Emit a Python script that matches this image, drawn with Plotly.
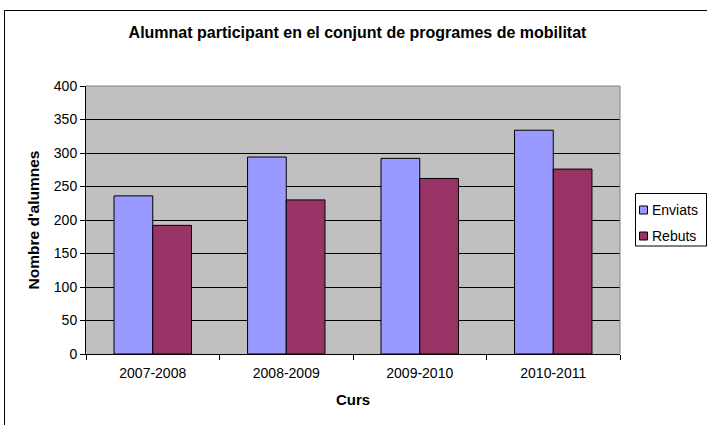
import plotly.graph_objects as go

cursos = ["2007-2008", "2008-2009", "2009-2010", "2010-2011"]
enviats = [236, 294, 292, 334]
rebuts = [192, 230, 262, 276]
series_names = ["Enviats", "Rebuts"]
series_colors = ["#9999FF", "#993366"]
yticks = [0, 50, 100, 150, 200, 250, 300, 350, 400]

W, H = 707, 425
L, R, T, B = 86, 87, 86, 71
pw, ph = W - L - R, H - T - B

def px_x(x):
    return (x - L) / pw

def px_y(y):
    return (H - B - y) / ph

FONT = "Liberation Sans, Arial, sans-serif"

fig = go.Figure()
for name, vals, col in zip(series_names, [enviats, rebuts], series_colors):
    fig.add_trace(go.Bar(x=cursos, y=vals, name=name, showlegend=False,
                         marker=dict(color=col, line=dict(color="black", width=1))))

fig.update_layout(
    width=W, height=H,
    margin=dict(l=L, r=R, t=T, b=B, autoexpand=False),
    paper_bgcolor="white", plot_bgcolor="#C0C0C0",
    font=dict(family=FONT, size=14, color="black"),
    bargap=0.42, bargroupgap=0,
    title=dict(text="<b>Alumnat participant en el conjunt de programes de mobilitat</b>",
               x=357.5 / W, xanchor="center", y=1 - 32.5 / H, yanchor="middle",
               font=dict(size=16, family=FONT)),
    showlegend=False,
)
fig.update_xaxes(
    type="category", tickson="boundaries", ticks="outside", ticklen=5, tickcolor="black",
    showline=True, linecolor="black", linewidth=1, showgrid=False,
    title=dict(text="<b>Curs</b>", font=dict(size=15), standoff=14),
    tickfont=dict(size=14), ticklabelstandoff=6,
)
fig.update_yaxes(
    range=[0, 400], tickvals=yticks, ticks="outside", ticklen=5, tickcolor="black",
    showline=True, linecolor="black", linewidth=1,
    showgrid=True, gridcolor="black", gridwidth=1, zeroline=False,
    title=dict(text="<b>Nombre d'alumnes</b>", font=dict(size=15.5), standoff=10),
    tickfont=dict(size=14),
)
# gray top and right plot border
fig.add_shape(type="line", xref="paper", yref="paper", x0=0, x1=1, y0=1, y1=1,
              line=dict(color="#808080", width=1))
fig.add_shape(type="line", xref="paper", yref="paper", x0=1, x1=1, y0=0, y1=1,
              line=dict(color="#808080", width=1))
# outer chart border
fig.add_shape(type="rect", xref="paper", yref="paper",
              x0=px_x(4.5), x1=px_x(712), y0=px_y(430), y1=px_y(10.5),
              line=dict(color="black", width=1), fillcolor="rgba(0,0,0,0)", layer="below")

# legend box
fig.add_shape(type="rect", xref="paper", yref="paper",
              x0=px_x(635.5), x1=px_x(706.5), y0=px_y(246), y1=px_y(193.5),
              line=dict(color="black", width=1), fillcolor="white")
for i, (name, col) in enumerate(zip(series_names, series_colors)):
    cy = 210 + i * 26
    fig.add_shape(type="rect", xref="paper", yref="paper",
                  x0=px_x(639.5), x1=px_x(647.5), y0=px_y(cy + 4), y1=px_y(cy - 4),
                  line=dict(color="black", width=1), fillcolor=col)
    fig.add_annotation(text=name, xref="paper", yref="paper", x=px_x(650), y=px_y(cy),
                       xanchor="left", yanchor="middle", showarrow=False,
                       font=dict(size=14, family=FONT))

fig.write_html("out.html", config={"displayModeBar": False},
               post_script="document.body.style.margin='0';")
